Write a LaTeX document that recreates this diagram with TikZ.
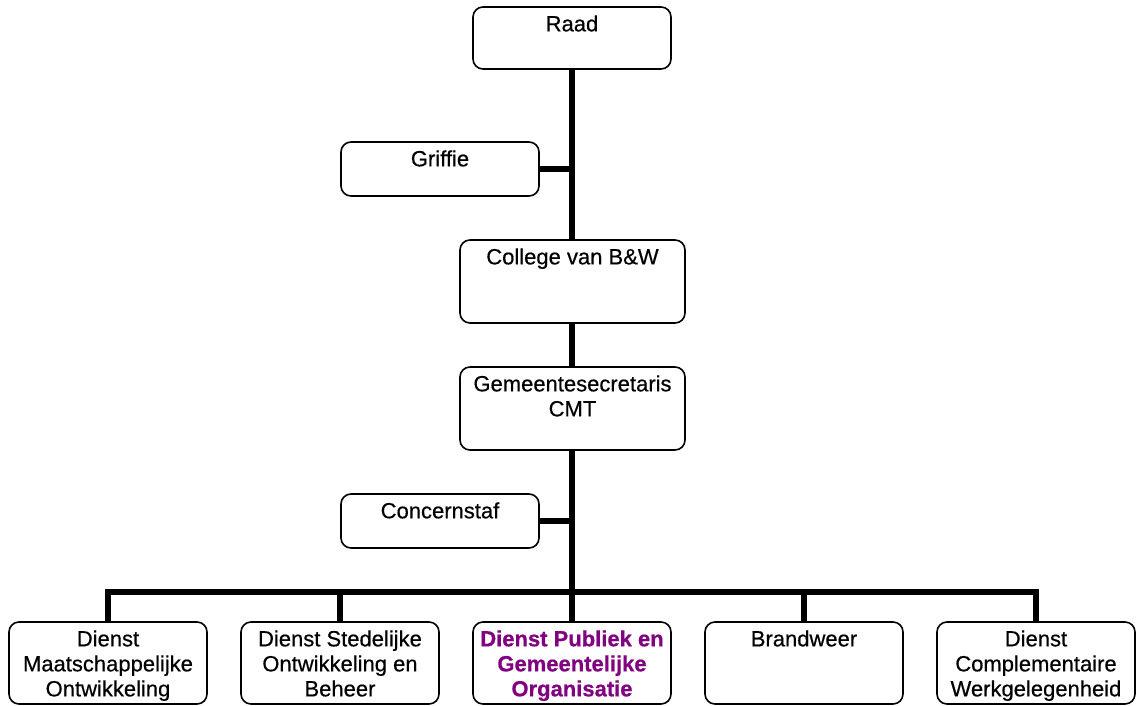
\documentclass[tikz,border=0pt]{standalone}
\usepackage{fontspec}
\setmainfont{Liberation Sans}[FakeBold=0.5]
\definecolor{dienstpurple}{RGB}{128,0,128}
\tikzset{
  orgbox/.style={draw=black, line width=1.6pt, rounded corners=10pt,
    fill=white, minimum width=198pt, inner sep=0pt},
  wide/.style={minimum width=225pt},
  boxtext/.style={font=\fontsize{22}{25}\selectfont, align=center,
    inner sep=0pt, anchor=north, yshift=-9pt},
  conn/.style={line width=5.5pt, draw=black}
}
\begin{document}
\begin{tikzpicture}[x=1pt,y=-1pt]
\useasboundingbox (0,0) rectangle (1136,706);

\coordinate (bus) at (572,592);

% top of the hierarchy
\node[orgbox, minimum height=62pt, label={[boxtext]north:Raad}] (raad) at (572,38) {};
\node[orgbox, minimum height=54pt, label={[boxtext]north:Griffie}] (griffie) at (440,169) {};
\node[orgbox, wide, minimum height=83pt, label={[boxtext]north:College van B\&W}] (college) at (572.5,281.5) {};
\node[orgbox, wide, minimum height=83pt, label={[boxtext]north:Gemeentesecretaris\\CMT}] (gs) at (572.5,408.5) {};
\node[orgbox, minimum height=54pt, label={[boxtext]north:Concernstaf}] (concern) at (440,521) {};

% services
\node[orgbox, minimum height=82pt, label={[boxtext]north:Dienst\\Maatschappelijke\\Ontwikkeling}] (d1) at (108,663) {};
\node[orgbox, minimum height=82pt, label={[boxtext]north:Dienst Stedelijke\\Ontwikkeling en\\Beheer}] (d2) at (340,663) {};
\node[orgbox, minimum height=82pt, label={[boxtext, text=dienstpurple, font=\fontsize{22}{25}\selectfont\bfseries]north:Dienst Publiek en\\Gemeentelijke\\Organisatie}] (d3) at (572,663) {};
\node[orgbox, minimum height=82pt, label={[boxtext]north:Brandweer}] (d4) at (804,663) {};
\node[orgbox, minimum height=82pt, label={[boxtext]north:Dienst\\Complementaire\\Werkgelegenheid}] (d5) at (1036,663) {};

% vertical spine
\draw[conn] (raad.south) -- (raad.south |- college.north);
\draw[conn] (griffie.east) -- (griffie.east -| raad.south);
\draw[conn] (college.south -| raad.south) -- (raad.south |- gs.north);
\draw[conn] (gs.south -| raad.south) -- (bus);
\draw[conn] (concern.east) -- (concern.east -| bus);

% horizontal bus to the services
\draw[conn] (d1.north) |- (bus) -| (d5.north);
\draw[conn] (d2.north) -- (d2.north |- bus);
\draw[conn] (d3.north) -- (bus);
\draw[conn] (d4.north) -- (d4.north |- bus);
\end{tikzpicture}
\end{document}
